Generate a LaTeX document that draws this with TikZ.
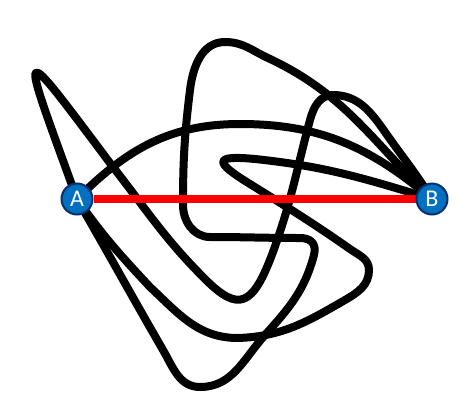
\documentclass[tikz,border=0pt]{standalone}
\usepackage{fontspec}
\setsansfont{Carlito}
\usepackage{xcolor}
\usetikzlibrary{backgrounds}
\pgfdeclarelayer{background}
\pgfsetlayers{background,main}
\definecolor{ink}{HTML}{000000}
\definecolor{direct}{HTML}{FF0000}
\definecolor{pinfill}{HTML}{0070C0}
\definecolor{pinrim}{HTML}{0A2F6B}
\tikzset{
  font=\sffamily,
  endpoint/.style={
    circle,
    draw=pinrim,
    line width=2pt,
    fill=pinfill,
    minimum size=31pt,
    inner sep=0pt,
    text=white,
    font=\sffamily\fontsize{24}{24}\selectfont
  },
  strand/.style={
    draw=ink,
    line width=8pt,
    line cap=round,
    line join=round
  },
  shortest/.style={
    draw=direct,
    line width=8pt
  }
}

\begin{document}
\begin{tikzpicture}[x=1pt,y=-1pt]

\useasboundingbox (0,0) rectangle (466,413);

% ---------------------------------------------------------------------------
% 1. End points
% ---------------------------------------------------------------------------
\node[endpoint] (nodeA) at (77,199) {A};
\node[endpoint] (nodeB) at (432,199) {B};

\begin{pgfonlayer}{background}
% ---------------------------------------------------------------------------
% 2. Paths from A to B
% ---------------------------------------------------------------------------
% Upper arc.
\draw[strand] (nodeA.center) to[out=45,in=180] (240,124)
  to[out=0,in=140] (nodeB.center);

% Left loop, then the narrow arch.
\draw[strand] (nodeA.center) .. controls (19,39) and (14,35) .. (110,163)
  to[out=-52,in=135] (205,279)
  .. controls (239,313) and (253,306) .. (273,252)
  to[out=70,in=-105] (310,120)
  to[out=75,in=180] (333,95)
  to[out=0,in=125] (385,132)
  to[out=-55,in=122] (nodeB.center);

% Lowest loop, back through the middle and over the top.
\draw[strand] (nodeA.center) to[out=-60,in=120] (163,350)
  to[out=-60,in=180] (200,387)
  to[out=0,in=-132] (265,335)
  to[out=48,in=-105] (314,255)
  .. controls (317,243) and (310,238) .. (300,238)
  to[out=180,in=0] (210,237)
  to[out=180,in=-90] (183,205)
  to[out=90,in=-97] (190,90)
  to[out=83,in=180] (225,42)
  to[out=0,in=155] (268,58)
  to[out=-25,in=136] (nodeB.center);

% Middle loop with the hook.
\draw[strand] (nodeA.center) to[out=-55,in=133] (150,287)
  to[out=-43,in=180] (238,338)
  to[out=2,in=-150] (345,300)
  to[out=30,in=-90] (369,270)
  to[out=90,in=-35] (350,249)
  to[out=145,in=-32] (250,184)
  .. controls (214,162) and (213,155) .. (255,159)
  to[out=-6,in=163] (nodeB.center);

% Straight segment drawn over the curves.
\draw[shortest] (nodeA) -- (nodeB);
\end{pgfonlayer}

\end{tikzpicture}
\end{document}
